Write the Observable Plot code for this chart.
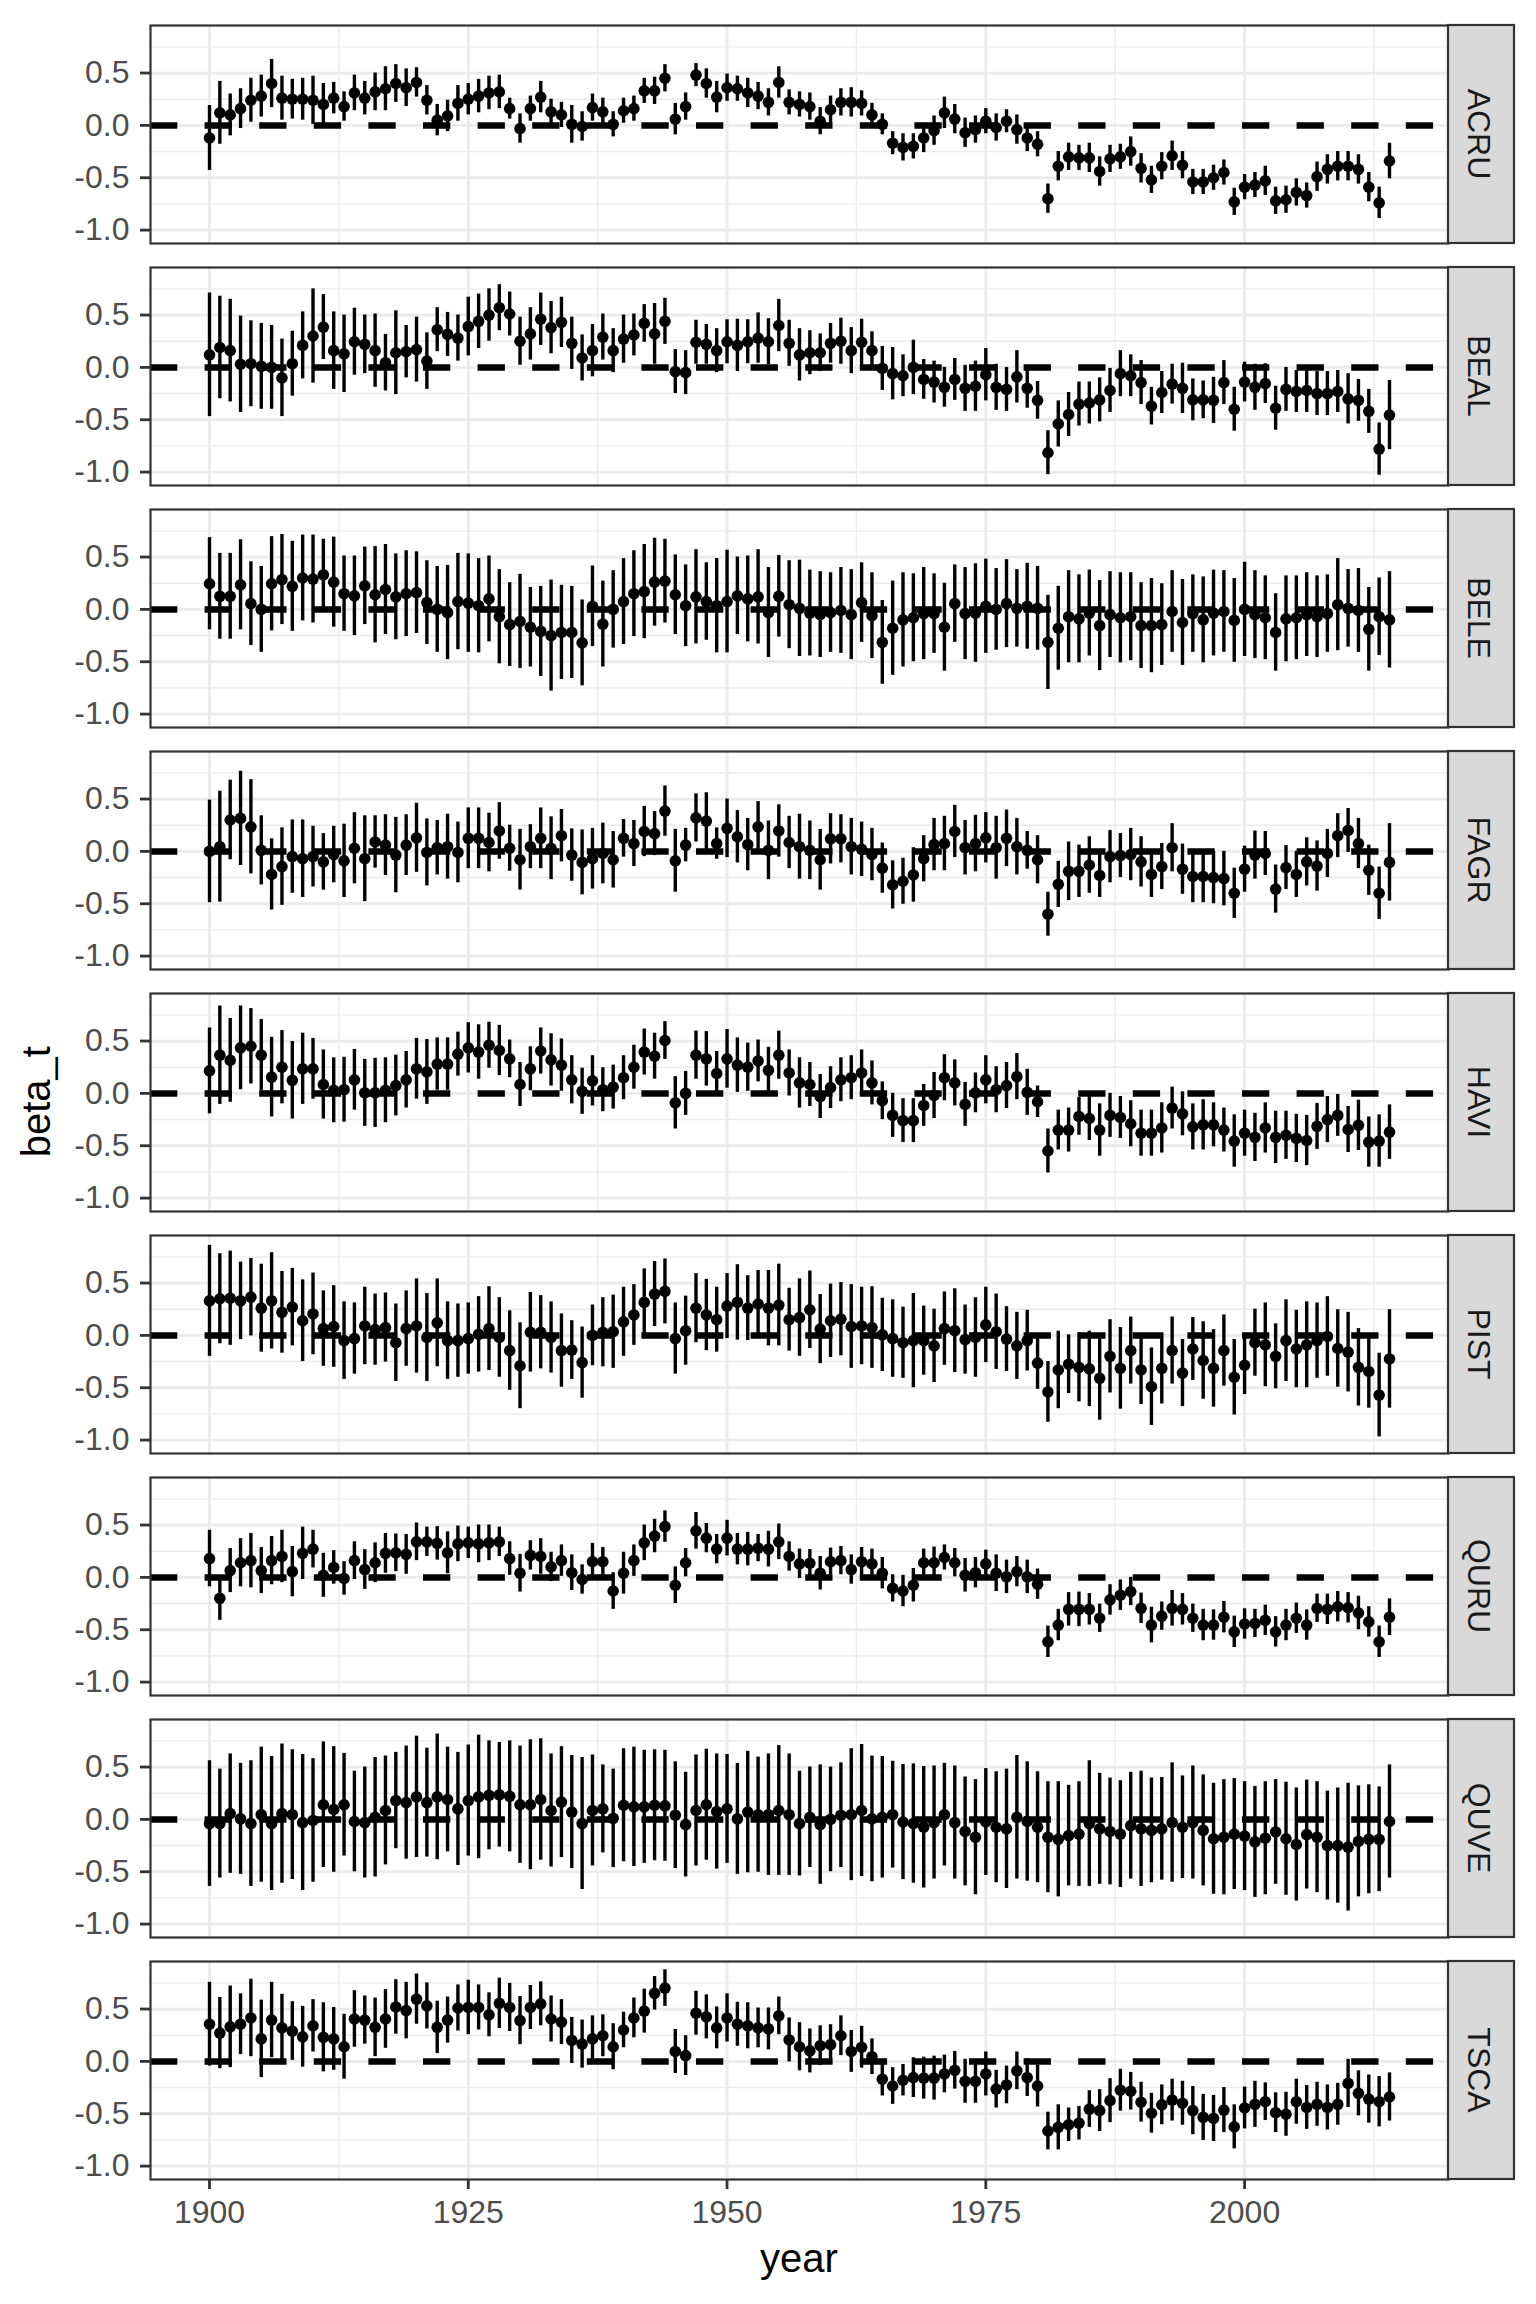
<!DOCTYPE html>
<html><head><meta charset="utf-8">
<script src="https://cdn.jsdelivr.net/npm/d3@7"></script>
<script src="https://cdn.jsdelivr.net/npm/@observablehq/plot@0.6"></script>
<style>body{margin:0;background:#fff;}</style>
</head><body><div id="chart"></div>
<script>
const species = ["ACRU","BEAL","BELE","FAGR","HAVI","PIST","QURU","QUVE","TSCA"];
const years = d3.range(1900, 2015);

const est_ACRU = [
-0.12,0.12,0.10,0.16,0.24,0.28,0.40,0.26,0.25,0.25,
0.24,0.20,0.26,0.18,0.31,0.26,0.32,0.35,0.40,0.36,
0.41,0.24,0.05,0.09,0.21,0.25,0.28,0.31,0.32,0.16,
-0.03,0.16,0.27,0.13,0.10,0.01,-0.01,0.17,0.13,0.01,
0.14,0.16,0.33,0.33,0.45,0.06,0.18,0.48,0.40,0.27,
0.36,0.35,0.31,0.28,0.22,0.41,0.22,0.20,0.18,0.04,
0.15,0.22,0.22,0.21,0.10,0.01,-0.17,-0.21,-0.20,-0.12,
-0.05,0.12,0.06,-0.07,-0.04,0.04,-0.02,0.04,-0.04,-0.12,
-0.18,-0.70,-0.39,-0.30,-0.31,-0.31,-0.44,-0.32,-0.30,-0.25,
-0.41,-0.52,-0.39,-0.29,-0.38,-0.54,-0.54,-0.50,-0.45,-0.73,
-0.59,-0.57,-0.53,-0.72,-0.71,-0.64,-0.67,-0.49,-0.42,-0.39,
-0.39,-0.42,-0.59,-0.74,-0.34];
const hw_ACRU = [
0.31,0.30,0.20,0.19,0.21,0.20,0.23,0.21,0.19,0.20,
0.23,0.20,0.15,0.14,0.17,0.16,0.18,0.21,0.18,0.18,
0.14,0.14,0.15,0.15,0.17,0.15,0.16,0.16,0.16,0.10,
0.14,0.12,0.15,0.12,0.12,0.18,0.14,0.13,0.13,0.12,
0.12,0.12,0.12,0.13,0.13,0.15,0.13,0.11,0.14,0.15,
0.13,0.12,0.14,0.13,0.13,0.15,0.12,0.12,0.13,0.13,
0.13,0.13,0.14,0.12,0.11,0.10,0.11,0.13,0.12,0.14,
0.14,0.15,0.14,0.14,0.13,0.12,0.13,0.11,0.14,0.13,
0.12,0.14,0.14,0.13,0.12,0.14,0.14,0.13,0.12,0.14,
0.14,0.13,0.13,0.14,0.13,0.12,0.12,0.12,0.12,0.13,
0.12,0.12,0.14,0.13,0.13,0.13,0.12,0.14,0.14,0.14,
0.14,0.14,0.14,0.15,0.17];

const est_BEAL = [
0.12,0.19,0.16,0.03,0.035,0.01,0.0,-0.10,0.035,0.21,
0.30,0.385,0.16,0.13,0.245,0.22,0.16,0.045,0.14,0.15,
0.17,0.06,0.36,0.315,0.28,0.39,0.44,0.50,0.57,0.51,
0.25,0.32,0.46,0.38,0.43,0.23,0.09,0.16,0.29,0.16,
0.27,0.31,0.42,0.32,0.44,-0.04,-0.05,0.24,0.22,0.16,
0.245,0.21,0.245,0.28,0.245,0.40,0.23,0.12,0.14,0.14,
0.23,0.25,0.16,0.24,0.16,-0.01,-0.06,-0.08,0.0,-0.115,
-0.14,-0.19,-0.115,-0.20,-0.18,-0.07,-0.19,-0.21,-0.09,-0.20,
-0.315,-0.815,-0.54,-0.45,-0.35,-0.34,-0.31,-0.22,-0.06,-0.08,
-0.145,-0.37,-0.24,-0.16,-0.20,-0.31,-0.31,-0.315,-0.145,-0.40,
-0.14,-0.19,-0.155,-0.39,-0.21,-0.23,-0.22,-0.25,-0.25,-0.23,
-0.30,-0.315,-0.42,-0.78,-0.455];
const hw_BEAL = [
0.59,0.49,0.49,0.46,0.41,0.41,0.40,0.37,0.31,0.32,
0.45,0.31,0.37,0.37,0.32,0.28,0.35,0.27,0.40,0.25,
0.31,0.27,0.21,0.21,0.22,0.28,0.26,0.25,0.22,0.21,
0.23,0.25,0.25,0.25,0.24,0.25,0.22,0.25,0.22,0.21,
0.23,0.20,0.18,0.29,0.22,0.21,0.21,0.21,0.19,0.21,
0.21,0.25,0.21,0.24,0.22,0.25,0.22,0.25,0.21,0.18,
0.19,0.22,0.22,0.22,0.18,0.21,0.25,0.20,0.26,0.19,
0.20,0.19,0.20,0.22,0.24,0.25,0.22,0.21,0.25,0.19,
0.18,0.21,0.22,0.21,0.21,0.20,0.21,0.21,0.22,0.20,
0.21,0.18,0.20,0.19,0.24,0.20,0.18,0.22,0.21,0.21,
0.19,0.22,0.19,0.21,0.21,0.20,0.21,0.21,0.21,0.20,
0.24,0.20,0.21,0.25,0.33];

const est_BELE = [
0.245,0.125,0.125,0.235,0.055,0.0,0.245,0.285,0.22,0.30,
0.29,0.33,0.26,0.15,0.13,0.225,0.14,0.19,0.12,0.15,
0.16,0.065,0.0,-0.03,0.075,0.06,0.035,0.10,-0.07,-0.145,
-0.115,-0.17,-0.21,-0.25,-0.22,-0.22,-0.32,0.03,-0.14,0.0,
0.075,0.15,0.17,0.26,0.27,0.14,0.035,0.12,0.075,0.035,
0.075,0.13,0.10,0.12,-0.03,0.125,0.045,0.01,-0.035,-0.05,
-0.03,-0.01,-0.05,0.065,-0.06,-0.315,-0.18,-0.10,-0.08,-0.04,
-0.04,-0.17,0.055,-0.04,-0.035,0.03,0.0,0.055,0.01,0.03,
0.01,-0.315,-0.18,-0.07,-0.09,-0.035,-0.155,-0.05,-0.08,-0.07,
-0.155,-0.155,-0.145,-0.02,-0.125,-0.04,-0.10,-0.035,-0.02,-0.105,
0.0,-0.05,-0.08,-0.22,-0.09,-0.08,-0.05,-0.07,-0.04,0.045,
0.01,-0.01,-0.19,-0.07,-0.10];
const hw_BELE = [
0.44,0.41,0.41,0.43,0.40,0.41,0.45,0.43,0.43,0.41,
0.42,0.34,0.43,0.36,0.38,0.37,0.46,0.43,0.41,0.41,
0.39,0.40,0.41,0.45,0.46,0.47,0.45,0.41,0.45,0.40,
0.45,0.38,0.43,0.53,0.45,0.44,0.41,0.385,0.41,0.37,
0.41,0.41,0.45,0.42,0.40,0.38,0.39,0.45,0.37,0.45,
0.49,0.37,0.41,0.45,0.43,0.39,0.42,0.46,0.41,0.41,
0.38,0.41,0.43,0.38,0.41,0.40,0.45,0.45,0.42,0.44,
0.38,0.42,0.37,0.44,0.47,0.45,0.39,0.42,0.37,0.41,
0.40,0.45,0.40,0.44,0.42,0.41,0.43,0.41,0.43,0.42,
0.41,0.45,0.39,0.39,0.41,0.37,0.41,0.41,0.39,0.40,
0.45,0.42,0.40,0.37,0.41,0.40,0.40,0.39,0.37,0.44,
0.37,0.40,0.40,0.37,0.46];

const est_FAGR = [
0.0,0.045,0.30,0.315,0.235,0.01,-0.22,-0.145,-0.05,-0.07,
-0.05,-0.10,-0.03,-0.09,0.03,-0.07,0.09,0.06,-0.035,0.06,
0.13,-0.01,0.035,0.045,-0.01,0.125,0.125,0.085,0.195,0.03,
-0.08,0.045,0.125,0.03,0.15,-0.035,-0.105,-0.07,-0.02,-0.08,
0.125,0.075,0.19,0.17,0.385,-0.09,0.06,0.32,0.29,0.075,
0.22,0.14,0.065,0.235,0.01,0.195,0.085,0.045,0.01,-0.08,
0.12,0.12,0.045,0.02,-0.03,-0.16,-0.32,-0.285,-0.225,-0.07,
0.065,0.075,0.19,0.035,0.075,0.13,0.035,0.125,0.045,0.01,
-0.08,-0.60,-0.315,-0.19,-0.19,-0.13,-0.23,-0.05,-0.04,-0.03,
-0.10,-0.22,-0.145,0.035,-0.17,-0.24,-0.24,-0.25,-0.26,-0.40,
-0.17,-0.035,-0.02,-0.36,-0.155,-0.22,-0.10,-0.14,-0.02,0.15,
0.20,0.075,-0.18,-0.40,-0.105];
const hw_FAGR = [
0.49,0.53,0.38,0.45,0.45,0.33,0.34,0.37,0.35,0.37,
0.29,0.27,0.27,0.35,0.34,0.41,0.25,0.29,0.36,0.29,
0.33,0.32,0.26,0.31,0.29,0.29,0.29,0.28,0.27,0.22,
0.29,0.21,0.29,0.30,0.25,0.25,0.31,0.29,0.29,0.27,
0.18,0.22,0.24,0.21,0.24,0.30,0.16,0.23,0.27,0.15,
0.28,0.25,0.25,0.24,0.28,0.25,0.25,0.31,0.28,0.29,
0.24,0.23,0.27,0.26,0.25,0.24,0.23,0.22,0.26,0.22,
0.25,0.26,0.25,0.26,0.27,0.24,0.30,0.27,0.27,0.18,
0.23,0.21,0.22,0.28,0.25,0.27,0.21,0.25,0.21,0.25,
0.24,0.22,0.22,0.23,0.24,0.25,0.25,0.25,0.26,0.24,
0.22,0.23,0.21,0.23,0.21,0.22,0.23,0.24,0.23,0.21,
0.21,0.24,0.24,0.25,0.37];

const est_HAVI = [
0.215,0.365,0.315,0.435,0.45,0.365,0.155,0.25,0.125,0.235,
0.235,0.085,0.03,0.035,0.13,0.005,0.005,0.03,0.075,0.13,
0.235,0.205,0.28,0.28,0.375,0.435,0.395,0.46,0.41,0.33,
0.085,0.235,0.405,0.32,0.27,0.13,0.02,0.12,0.035,0.06,
0.15,0.25,0.395,0.355,0.505,-0.09,0.0,0.365,0.33,0.19,
0.33,0.27,0.25,0.31,0.22,0.365,0.195,0.10,0.085,-0.03,
0.055,0.13,0.15,0.195,0.10,-0.07,-0.21,-0.26,-0.26,-0.115,
-0.02,0.15,0.10,-0.105,0.005,0.13,0.035,0.075,0.16,0.01,
-0.08,-0.55,-0.35,-0.35,-0.22,-0.24,-0.35,-0.21,-0.23,-0.29,
-0.38,-0.38,-0.33,-0.14,-0.195,-0.32,-0.30,-0.30,-0.35,-0.455,
-0.38,-0.42,-0.33,-0.42,-0.40,-0.43,-0.45,-0.315,-0.25,-0.21,
-0.345,-0.305,-0.465,-0.455,-0.37];
const hw_HAVI = [
0.41,0.47,0.40,0.40,0.36,0.34,0.38,0.35,0.37,0.34,
0.29,0.33,0.31,0.31,0.29,0.32,0.33,0.31,0.29,0.27,
0.29,0.31,0.25,0.25,0.21,0.24,0.26,0.22,0.24,0.18,
0.21,0.21,0.22,0.25,0.25,0.23,0.22,0.24,0.21,0.21,
0.21,0.21,0.22,0.22,0.18,0.25,0.21,0.23,0.26,0.21,
0.28,0.26,0.23,0.20,0.22,0.23,0.22,0.24,0.21,0.21,
0.20,0.21,0.21,0.22,0.21,0.18,0.21,0.21,0.21,0.20,
0.22,0.22,0.22,0.21,0.19,0.23,0.22,0.22,0.22,0.22,
0.15,0.21,0.19,0.21,0.18,0.21,0.25,0.21,0.20,0.22,
0.22,0.22,0.24,0.20,0.21,0.22,0.24,0.21,0.21,0.25,
0.22,0.23,0.24,0.25,0.23,0.23,0.24,0.22,0.22,0.20,
0.22,0.24,0.24,0.25,0.26];

const est_PIST = [
0.33,0.35,0.355,0.33,0.365,0.26,0.33,0.22,0.27,0.14,
0.205,0.065,0.085,-0.05,-0.03,0.09,0.055,0.075,-0.07,0.065,
0.09,-0.02,0.12,-0.05,-0.05,-0.03,0.01,0.065,-0.02,-0.145,
-0.29,0.03,0.03,-0.02,-0.145,-0.14,-0.26,0.0,0.03,0.035,
0.13,0.195,0.315,0.395,0.42,-0.03,0.045,0.26,0.195,0.15,
0.28,0.315,0.26,0.30,0.26,0.29,0.15,0.17,0.245,0.06,
0.14,0.155,0.085,0.09,0.075,0.005,-0.03,-0.07,-0.05,-0.05,
-0.10,0.065,0.045,-0.04,-0.02,0.10,0.035,-0.035,-0.10,-0.05,
-0.265,-0.54,-0.33,-0.275,-0.305,-0.32,-0.41,-0.20,-0.315,-0.145,
-0.33,-0.49,-0.315,-0.145,-0.36,-0.13,-0.24,-0.315,-0.145,-0.40,
-0.285,-0.07,-0.09,-0.20,-0.05,-0.13,-0.09,-0.05,-0.01,-0.125,
-0.16,-0.305,-0.345,-0.57,-0.225];
const hw_PIST = [
0.53,0.43,0.45,0.37,0.37,0.42,0.46,0.39,0.37,0.39,
0.39,0.36,0.39,0.37,0.34,0.37,0.34,0.33,0.37,0.36,
0.45,0.42,0.42,0.37,0.35,0.34,0.36,0.40,0.38,0.38,
0.41,0.38,0.35,0.34,0.35,0.28,0.34,0.29,0.33,0.35,
0.33,0.29,0.32,0.31,0.31,0.34,0.33,0.33,0.34,0.31,
0.31,0.36,0.31,0.32,0.36,0.39,0.30,0.37,0.37,0.33,
0.35,0.35,0.40,0.37,0.39,0.35,0.37,0.34,0.45,0.33,
0.35,0.35,0.40,0.33,0.38,0.36,0.36,0.31,0.32,0.29,
0.25,0.29,0.37,0.28,0.33,0.36,0.40,0.35,0.39,0.32,
0.33,0.37,0.34,0.32,0.32,0.30,0.37,0.37,0.34,0.36,
0.28,0.32,0.40,0.31,0.39,0.37,0.41,0.36,0.38,0.37,
0.38,0.37,0.35,0.40,0.47];

const est_QURU = [
0.18,-0.20,0.065,0.14,0.16,0.065,0.16,0.20,0.055,0.23,
0.27,0.02,0.095,-0.01,0.16,0.075,0.14,0.23,0.235,0.22,
0.34,0.34,0.325,0.235,0.32,0.33,0.32,0.33,0.34,0.18,
0.04,0.21,0.20,0.10,0.16,0.045,-0.02,0.15,0.15,-0.13,
0.04,0.16,0.33,0.395,0.485,-0.075,0.14,0.445,0.375,0.27,
0.375,0.27,0.27,0.28,0.27,0.34,0.20,0.13,0.135,0.04,
0.15,0.16,0.075,0.15,0.13,0.04,-0.105,-0.13,-0.075,0.14,
0.14,0.19,0.14,0.02,0.045,0.13,0.04,0.005,0.055,0.005,
-0.065,-0.615,-0.455,-0.305,-0.305,-0.305,-0.39,-0.215,-0.17,-0.135,
-0.295,-0.455,-0.37,-0.295,-0.305,-0.39,-0.455,-0.455,-0.38,-0.52,
-0.445,-0.44,-0.41,-0.52,-0.455,-0.39,-0.455,-0.295,-0.305,-0.28,
-0.29,-0.34,-0.425,-0.615,-0.38];
const hw_QURU = [
0.27,0.21,0.21,0.23,0.26,0.22,0.23,0.25,0.24,0.25,
0.18,0.21,0.16,0.16,0.18,0.19,0.19,0.19,0.18,0.19,
0.18,0.14,0.16,0.20,0.17,0.15,0.18,0.17,0.14,0.16,
0.18,0.14,0.17,0.14,0.15,0.17,0.14,0.175,0.135,0.175,
0.20,0.15,0.17,0.16,0.15,0.175,0.135,0.175,0.14,0.14,
0.17,0.15,0.16,0.13,0.17,0.17,0.14,0.14,0.13,0.16,
0.13,0.135,0.14,0.135,0.14,0.15,0.13,0.15,0.16,0.13,
0.15,0.12,0.135,0.16,0.145,0.13,0.175,0.16,0.145,0.16,
0.145,0.15,0.15,0.16,0.165,0.15,0.135,0.145,0.145,0.135,
0.145,0.17,0.135,0.17,0.15,0.135,0.15,0.145,0.15,0.15,
0.145,0.135,0.145,0.145,0.15,0.145,0.145,0.135,0.145,0.145,
0.145,0.16,0.145,0.15,0.175];

const est_QUVE = [
-0.04,-0.04,0.055,0.005,-0.04,0.045,-0.04,0.055,0.045,-0.03,
-0.01,0.14,0.095,0.14,-0.02,-0.03,0.02,0.085,0.18,0.16,
0.215,0.16,0.215,0.19,0.10,0.18,0.215,0.23,0.235,0.22,
0.14,0.14,0.19,0.085,0.165,0.07,-0.04,0.085,0.10,0.01,
0.135,0.12,0.12,0.135,0.13,0.04,-0.05,0.085,0.14,0.075,
0.10,0.005,0.07,0.045,0.045,0.085,0.045,-0.04,0.02,-0.05,
0.0,0.04,0.045,0.085,0.005,0.02,0.045,-0.025,-0.04,-0.075,
-0.03,0.045,-0.03,-0.115,-0.17,-0.025,-0.075,-0.09,0.02,-0.02,
-0.075,-0.17,-0.19,-0.155,-0.14,-0.04,-0.09,-0.115,-0.14,-0.06,
-0.09,-0.105,-0.09,-0.03,-0.075,-0.03,-0.105,-0.185,-0.17,-0.14,
-0.16,-0.215,-0.18,-0.12,-0.185,-0.24,-0.145,-0.17,-0.25,-0.25,
-0.265,-0.21,-0.19,-0.19,-0.02];
const hw_QUVE = [
0.60,0.52,0.57,0.53,0.60,0.645,0.64,0.665,0.62,0.65,
0.59,0.60,0.60,0.49,0.48,0.53,0.57,0.52,0.46,0.54,
0.58,0.52,0.60,0.50,0.54,0.53,0.59,0.52,0.50,0.53,
0.56,0.62,0.58,0.54,0.53,0.54,0.63,0.53,0.42,0.47,
0.54,0.57,0.54,0.53,0.53,0.51,0.50,0.53,0.53,0.55,
0.52,0.53,0.58,0.55,0.58,0.62,0.58,0.50,0.48,0.57,
0.50,0.50,0.63,0.63,0.60,0.58,0.51,0.55,0.57,0.58,
0.54,0.49,0.54,0.52,0.55,0.51,0.53,0.57,0.59,0.57,
0.53,0.53,0.55,0.48,0.50,0.60,0.53,0.51,0.51,0.51,
0.55,0.50,0.49,0.57,0.49,0.54,0.53,0.53,0.55,0.53,
0.52,0.53,0.54,0.50,0.54,0.54,0.52,0.53,0.52,0.55,
0.61,0.53,0.52,0.50,0.54];

const est_TSCA = [
0.355,0.27,0.33,0.355,0.415,0.215,0.395,0.32,0.29,0.235,
0.34,0.23,0.215,0.14,0.405,0.395,0.325,0.405,0.52,0.485,
0.595,0.53,0.325,0.395,0.51,0.515,0.515,0.445,0.555,0.515,
0.39,0.515,0.55,0.405,0.375,0.20,0.165,0.215,0.245,0.14,
0.30,0.415,0.48,0.65,0.70,0.095,0.055,0.46,0.425,0.32,
0.415,0.355,0.34,0.32,0.31,0.435,0.205,0.14,0.10,0.15,
0.16,0.245,0.095,0.135,0.045,-0.17,-0.235,-0.18,-0.155,-0.16,
-0.16,-0.12,-0.085,-0.19,-0.19,-0.12,-0.265,-0.225,-0.09,-0.155,
-0.235,-0.665,-0.63,-0.605,-0.59,-0.455,-0.47,-0.375,-0.275,-0.285,
-0.39,-0.495,-0.415,-0.37,-0.40,-0.47,-0.535,-0.545,-0.465,-0.625,
-0.445,-0.41,-0.385,-0.49,-0.505,-0.385,-0.44,-0.41,-0.44,-0.41,
-0.21,-0.305,-0.36,-0.385,-0.34];
const hw_TSCA = [
0.40,0.34,0.39,0.29,0.37,0.37,0.36,0.32,0.28,0.29,
0.25,0.33,0.30,0.31,0.27,0.23,0.28,0.28,0.26,0.27,
0.24,0.22,0.25,0.22,0.22,0.26,0.215,0.21,0.24,0.23,
0.23,0.21,0.21,0.22,0.215,0.22,0.23,0.22,0.20,0.22,
0.17,0.19,0.21,0.16,0.175,0.21,0.19,0.21,0.21,0.20,
0.23,0.21,0.22,0.19,0.20,0.18,0.21,0.23,0.21,0.19,
0.19,0.19,0.20,0.20,0.17,0.16,0.175,0.15,0.19,0.20,
0.21,0.18,0.18,0.21,0.21,0.21,0.18,0.18,0.18,0.18,
0.20,0.18,0.215,0.16,0.16,0.175,0.20,0.21,0.20,0.18,
0.19,0.19,0.19,0.20,0.21,0.23,0.22,0.22,0.215,0.21,
0.20,0.22,0.18,0.19,0.21,0.215,0.21,0.21,0.215,0.20,
0.23,0.215,0.23,0.24,0.23];

const yTicks = [-1, -0.5, 0, 0.5];
const yMinor = [-0.75, -0.25, 0.25, 0.75];
const xTicks = [1900, 1925, 1950, 1975, 2000];
const xMinor = [1912.5, 1937.5, 1962.5, 1987.5, 2012.5];

const estimates = {ACRU: est_ACRU, BEAL: est_BEAL, BELE: est_BELE, FAGR: est_FAGR, HAVI: est_HAVI,
  PIST: est_PIST, QURU: est_QURU, QUVE: est_QUVE, TSCA: est_TSCA};
const halfwidths = {ACRU: hw_ACRU, BEAL: hw_BEAL, BELE: hw_BELE, FAGR: hw_FAGR, HAVI: hw_HAVI,
  PIST: hw_PIST, QURU: hw_QURU, QUVE: hw_QUVE, TSCA: hw_TSCA};

const data = species.flatMap(sp => years.map((yr, i) => ({
  sp, year: yr, est: estimates[sp][i],
  lo: estimates[sp][i] - halfwidths[sp][i],
  hi: estimates[sp][i] + halfwidths[sp][i]
})));

const W = 1536, H = 2304, mL = 150, mR = 88, mT = 22.7, mB = 123.3;
const FONT = "'Liberation Sans', Arial, Helvetica, sans-serif";

const plot = Plot.plot({
  width: W, height: H,
  marginLeft: mL, marginRight: mR, marginTop: mT, marginBottom: mB,
  style: {fontFamily: FONT, background: "white", overflow: "visible"},
  x: {domain: [1894.3, 2019.7]},
  y: {domain: [-1.128, 0.954]},
  fy: {domain: species, paddingInner: 0.101, paddingOuter: 0, axis: null},
  marks: [
    Plot.ruleY(yMinor, {stroke: "#EBEBEB", strokeWidth: 1.4}),
    Plot.ruleX(xMinor, {stroke: "#EBEBEB", strokeWidth: 1.4}),
    Plot.gridY(yTicks, {stroke: "#EBEBEB", strokeOpacity: 1, strokeWidth: 2.8}),
    Plot.gridX(xTicks, {stroke: "#EBEBEB", strokeOpacity: 1, strokeWidth: 2.8}),
    Plot.ruleX(data, {x: "year", y1: "lo", y2: "hi", fy: "sp", stroke: "black", strokeWidth: 3.4}),
    Plot.dot(data, {x: "year", y: "est", fy: "sp", r: 5.8, fill: "black"}),
    Plot.ruleY([0], {stroke: "black", strokeWidth: 6.5, strokeDasharray: "27.3,27.3"}),
    Plot.frame({stroke: "#333333", strokeWidth: 2.2}),
    Plot.axisY(yTicks, {tickFormat: d => d.toFixed(1), tickSize: 10, tickPadding: 11, fontSize: 32,
      stroke: "#333333", strokeWidth: 2.8, fill: "#4D4D4D", label: null}),
    Plot.axisX(xTicks, {anchor: "bottom", tickFormat: d => String(d), tickSize: 10, tickPadding: 11, fontSize: 32,
      stroke: "#333333", strokeWidth: 2.8, fill: "#4D4D4D", label: null})
  ]
});

document.getElementById("chart").appendChild(plot);

// facet strips and axis titles, positioned from the plot's own scales
const svg = d3.select(plot);
const fy = plot.scale("fy");
const xs = plot.scale("x");
const xRight = xs.range[1];
const stripW = 66;
const g = svg.append("g");
species.forEach(sp => {
  const top = fy.apply(sp);
  g.append("rect").attr("x", xRight).attr("y", top).attr("width", stripW).attr("height", fy.bandwidth)
    .attr("fill", "#D9D9D9").attr("stroke", "#333333").attr("stroke-width", 2.2);
  const cx = xRight + 19.5, cy = top + fy.bandwidth / 2;
  g.append("text").attr("x", cx).attr("y", cy).attr("transform", `rotate(90,${cx},${cy})`)
    .attr("text-anchor", "middle").attr("font-size", 32).attr("fill", "#1A1A1A")
    .attr("font-family", FONT).text(sp);
});
const midY = (fy.range[0] + fy.range[1]) / 2;
svg.append("text").attr("x", 50).attr("y", midY).attr("transform", `rotate(-90,50,${midY})`)
  .attr("text-anchor", "middle").attr("font-size", 40).attr("fill", "black").attr("font-family", FONT).text("beta_t");
svg.append("text").attr("x", (xs.range[0] + xs.range[1]) / 2).attr("y", 2272)
  .attr("text-anchor", "middle").attr("font-size", 40).attr("fill", "black").attr("font-family", FONT).text("year");
</script>
</body></html>
